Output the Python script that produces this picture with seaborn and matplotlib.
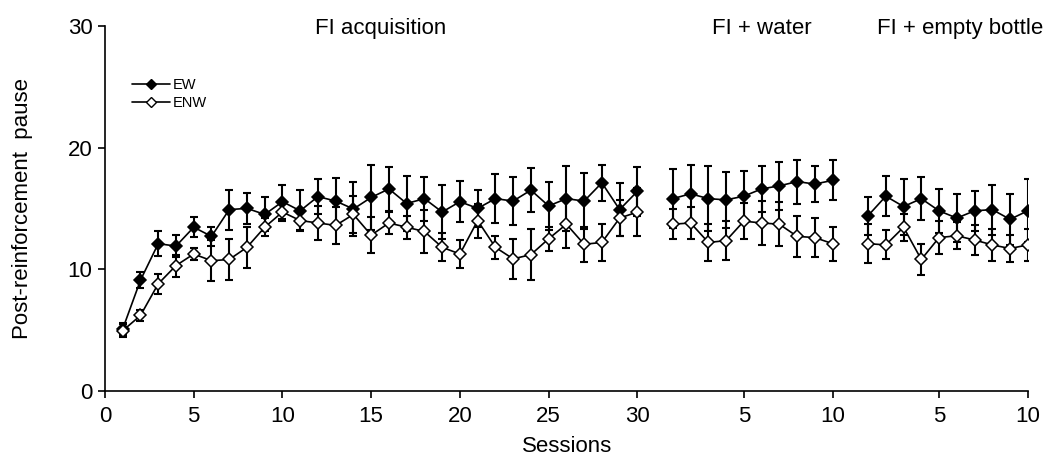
import numpy as np
import pandas as pd
import matplotlib
matplotlib.use("Agg")
import matplotlib.pyplot as plt
from matplotlib.lines import Line2D
import seaborn as sns

# ---------------- data ----------------
phase_names = ["FI acquisition", "FI + water", "FI + empty bottle"]
phase_offsets = [0, 31, 42]

ew_acq = [5.1, 9.1, 12.1, 11.9, 13.45, 12.7, 14.9, 15.0, 14.5, 15.55,
          14.8, 15.97, 15.6, 14.95, 15.9, 16.6, 15.4, 15.8, 14.7, 15.55,
          15.0, 15.8, 15.6, 16.5, 15.2, 15.8, 15.6, 17.1, 14.9, 16.4]
ew_acq_err = [0.5, 0.65, 1.0, 0.9, 0.8, 0.8, 1.65, 1.25, 1.4, 1.4,
              1.7, 1.45, 1.9, 2.2, 2.7, 1.8, 2.25, 1.8, 2.25, 1.7,
              1.55, 2.0, 2.0, 1.8, 2.0, 2.7, 2.3, 1.5, 2.2, 2.0]
enw_acq = [4.95, 6.2, 8.8, 10.3, 11.25, 10.7, 10.8, 11.8, 13.45, 14.7,
           14.0, 13.8, 13.6, 14.5, 12.8, 13.8, 13.45, 13.1, 11.8, 11.25,
           14.0, 11.8, 10.85, 11.2, 12.5, 13.7, 12.05, 12.2, 14.2, 14.7]
enw_acq_err = [0.55, 0.45, 0.8, 0.9, 0.5, 1.7, 1.7, 1.7, 0.75, 0.7,
               0.8, 1.4, 1.5, 1.5, 1.5, 0.9, 0.95, 1.8, 1.15, 1.15,
               1.4, 0.95, 1.65, 2.1, 1.0, 1.95, 1.45, 1.5, 1.5, 1.95]

ew_water = [15.8, 16.2, 15.8, 15.7, 16.0, 16.6, 16.85, 17.2, 17.0, 17.3]
ew_water_err = [2.4, 2.4, 2.7, 2.3, 2.1, 1.9, 2.0, 1.8, 1.5, 1.65]
enw_water = [13.7, 13.8, 12.2, 12.35, 13.95, 13.8, 13.7, 12.7, 12.6, 12.1]
enw_water_err = [1.25, 1.3, 1.5, 1.6, 1.5, 1.8, 1.8, 1.7, 1.6, 1.4]

ew_empty = [14.4, 16.0, 15.15, 15.8, 14.8, 14.2, 14.8, 14.9, 14.1, 14.8]
ew_empty_err = [1.55, 1.65, 2.3, 1.75, 1.8, 2.0, 1.65, 2.05, 2.1, 2.6]
enw_empty = [12.1, 12.0, 13.45, 10.8, 12.6, 12.75, 12.4, 12.0, 11.7, 12.0]
enw_empty_err = [1.6, 1.2, 1.1, 1.3, 1.35, 1.1, 1.25, 1.3, 1.1, 1.3]

x_ticks = [0, 5, 10, 15, 20, 25, 30, 36, 41, 47, 52]
x_tick_labels = ["0", "5", "10", "15", "20", "25", "30", "5", "10", "5", "10"]
y_ticks = [0, 10, 20, 30]

# build long table
rows = []
series = {
    "EW": [(ew_acq, ew_acq_err), (ew_water, ew_water_err), (ew_empty, ew_empty_err)],
    "ENW": [(enw_acq, enw_acq_err), (enw_water, enw_water_err), (enw_empty, enw_empty_err)],
}
for grp, phases in series.items():
    for pi, (vals, errs) in enumerate(phases):
        for k, (v, e) in enumerate(zip(vals, errs), start=1):
            rows.append(dict(group=grp, phase=phase_names[pi], session=k,
                             pos=phase_offsets[pi] + k, value=v, err=e))
df = pd.DataFrame(rows)

# ---------------- plot ----------------
sns.set_style("ticks")
plt.rcParams["font.family"] = ["Liberation Sans", "DejaVu Sans"]
plt.rcParams["text.color"] = "black"
plt.rcParams["axes.labelcolor"] = "black"
plt.rcParams["xtick.color"] = "black"
plt.rcParams["ytick.color"] = "black"

fig = plt.figure(figsize=(10.51, 4.61), dpi=100)
ax = fig.add_axes([0.0999, 0.152, 0.878, 0.792])

styles = {"EW": "black", "ENW": "white"}
for grp in ["EW", "ENW"]:
    for ph in phase_names:
        d = df[(df.group == grp) & (df.phase == ph)]
        ax.errorbar(d["pos"], d["value"], yerr=d["err"], fmt="none",
                    ecolor="black", elinewidth=1.5, capsize=3, capthick=1.5,
                    zorder=2)
        sns.lineplot(data=d, x="pos", y="value", ax=ax, color="black",
                     linewidth=1.2, marker="D", markersize=6.3,
                     markerfacecolor=styles[grp], markeredgecolor="black",
                     markeredgewidth=1.1, zorder=3, legend=False,
                     errorbar=None)

ax.set_xlim(0, 52)
ax.set_ylim(0, 30)
ax.set_xticks(x_ticks)
ax.set_xticklabels(x_tick_labels)
ax.set_yticks(y_ticks)
ax.tick_params(axis="both", labelsize=16, length=5, width=1.2, direction="out",
               color="black", labelcolor="black")
ax.tick_params(axis="x", pad=6)
ax.tick_params(axis="y", pad=4)
for s in ["top", "right"]:
    ax.spines[s].set_visible(False)
for s in ["left", "bottom"]:
    ax.spines[s].set_linewidth(1.2)
    ax.spines[s].set_color("black")

ax.set_xlabel("Sessions", fontsize=16, color="black")
ax.set_ylabel("Post-reinforcement  pause", fontsize=16, color="black")
ax.xaxis.set_label_coords(0.5 + (567 - 566) / 923, -0.124)
ax.yaxis.set_label_coords(-0.078, 0.5)

title_x = [15.55, 37.0, 48.2]
for tx, name in zip(title_x, phase_names):
    ax.text(tx, 29.31, name, ha="center", va="baseline", fontsize=16,
            color="black", clip_on=False)

handles = [
    Line2D([], [], color="black", lw=1.2, marker="D", markersize=5,
           markerfacecolor="black", markeredgecolor="black"),
    Line2D([], [], color="black", lw=1.2, marker="D", markersize=5,
           markerfacecolor="white", markeredgecolor="black"),
]
leg = ax.legend(handles, ["EW", "ENW"], loc="upper left",
                bbox_to_anchor=(0.018, 0.885), frameon=False, fontsize=10.5,
                handlelength=2.6, handletextpad=0.2, labelspacing=0.25,
                borderpad=0.2)
for t in leg.get_texts():
    t.set_color("black")

fig.savefig("out.png", dpi=100)
